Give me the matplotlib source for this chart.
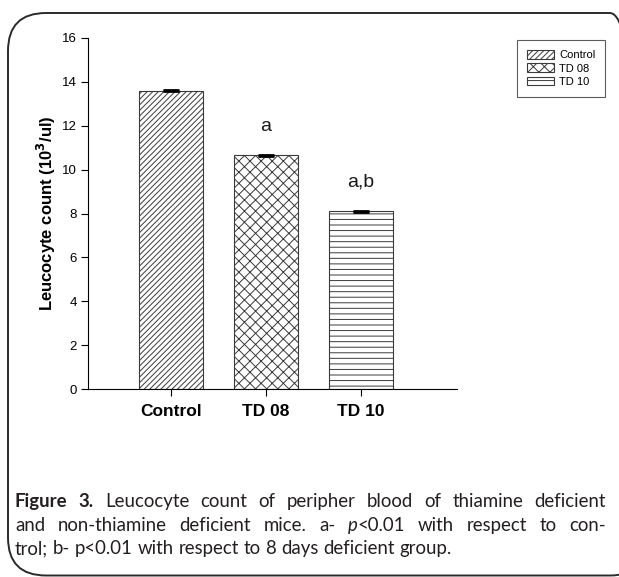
import numpy as np
import matplotlib
matplotlib.use("Agg")
import matplotlib.pyplot as plt
from matplotlib.patches import FancyBboxPatch, Patch
from matplotlib.transforms import IdentityTransform

# ---- data ----
groups = ["Control", "TD 08", "TD 10"]
counts = [13.6, 10.65, 8.1]
errors = [0.03, 0.03, 0.03]
hatches = ["//////", "xxx", "---"]
signif = ["", "a", "a,b"]
yticks = [0, 2, 4, 6, 8, 10, 12, 14, 16]

caption_lines = [
    [[("Figure", "bold", "normal")], [("3.", "bold", "normal")], [("Leucocyte", "normal", "normal")],
     [("count", "normal", "normal")], [("of", "normal", "normal")], [("peripher", "normal", "normal")],
     [("blood", "normal", "normal")], [("of", "normal", "normal")], [("thiamine", "normal", "normal")],
     [("deficient", "normal", "normal")]],
    [[("and", "normal", "normal")], [("non-thiamine", "normal", "normal")], [("deficient", "normal", "normal")],
     [("mice.", "normal", "normal")], [("a-", "normal", "normal")],
     [("p", "normal", "italic"), ("<0.01", "normal", "normal")], [("with", "normal", "normal")],
     [("respect", "normal", "normal")], [("to", "normal", "normal")], [("con-", "normal", "normal")]],
    [[("trol;", "normal", "normal")], [("b-", "normal", "normal")], [("p<0.01", "normal", "normal")],
     [("with", "normal", "normal")], [("respect", "normal", "normal")], [("to", "normal", "normal")],
     [("8", "normal", "normal")], [("days", "normal", "normal")], [("deficient", "normal", "normal")],
     [("group.", "normal", "normal")]],
]

W, H = 619, 577
plt.rcParams['font.family'] = ['Liberation Sans', 'DejaVu Sans']
plt.rcParams['hatch.linewidth'] = 0.7

fig = plt.figure(figsize=(W / 100, H / 100), dpi=100)
ax = fig.add_axes([88 / W, (H - 389) / H, (457 - 88) / W, (389 - 38) / H])

x = np.arange(len(groups))
edge = "#3a3a3a"
for xi, c, h in zip(x, counts, hatches):
    ax.bar(xi, c, width=0.67, color="white", edgecolor=edge, hatch=h, linewidth=0.8)
ax.errorbar(x, counts, yerr=errors, fmt="none", ecolor="black", capsize=5.5, capthick=2, elinewidth=1)

for xi, c, s in zip(x, counts, signif):
    if s:
        ax.text(xi, c + 0.95, s, ha="center", va="bottom", fontsize=14, color="#1a1a1a")

ax.set_xlim(-0.874, 3.01)
ax.set_ylim(0, 16)
ax.set_yticks(yticks)
ax.set_xticks(x)
ax.set_xticklabels(groups, fontsize=12.5, fontweight="bold")
ax.tick_params(axis="y", labelsize=9.5, direction="out", length=5, width=0.8, pad=3)
ax.tick_params(axis="x", direction="out", length=5, width=0.8, pad=6)
for s in ["top", "right"]:
    ax.spines[s].set_visible(False)
ax.spines["left"].set_linewidth(0.8)
ax.spines["bottom"].set_linewidth(0.8)
ax.set_ylabel("Leucocyte count (10$^\\mathbf{3}$/ul)", fontsize=12, fontweight="bold", labelpad=3)

handles = [Patch(facecolor="white", edgecolor=edge, hatch=h, linewidth=0.8) for h in hatches]
leg = fig.legend(handles, groups, loc="upper left", bbox_to_anchor=(517 / W, 1 - 40 / H),
                 fontsize=8, frameon=True, fancybox=False, edgecolor="#333333",
                 handlelength=2.4, handleheight=0.8, labelspacing=0.3, handletextpad=0.5,
                 borderpad=0.9, borderaxespad=0)
leg.get_frame().set_linewidth(0.8)

# rounded frame around figure
frame = FancyBboxPatch((8, 1.5), 640, H - 14.5, boxstyle="round,pad=0,rounding_size=38",
                       transform=IdentityTransform(), facecolor="none", edgecolor="#2a2a2a",
                       linewidth=1.4)
fig.add_artist(frame)

# justified caption (baseline positions in pixels from top)
renderer = fig.canvas.get_renderer()
cap_x0, cap_x1 = 15, 606
cap_base = [507, 531, 554]
cap_size = 13.4
cap_font = ["Lato", "DejaVu Sans"]


def measure(txt, weight, style):
    t = fig.text(0, 0, txt, fontsize=cap_size, fontweight=weight, fontstyle=style, family=cap_font)
    w = t.get_window_extent(renderer).width
    t.remove()
    return w


space_w = measure("a b", "normal", "normal") - measure("ab", "normal", "normal")
for i, (line, yy) in enumerate(zip(caption_lines, cap_base)):
    widths = [[measure(*seg) for seg in word] for word in line]
    total = sum(sum(w) for w in widths)
    gap = (cap_x1 - cap_x0 - total) / (len(line) - 1) if i < 2 else space_w
    xx = cap_x0
    for word, ws in zip(line, widths):
        for (txt, weight, style), w in zip(word, ws):
            fig.text(xx / W, 1 - yy / H, txt, fontsize=cap_size, fontweight=weight, fontstyle=style,
                     family=cap_font, va="baseline", ha="left", color="#231f20")
            xx += w
        xx += gap

fig.savefig("out.png", dpi=100)
